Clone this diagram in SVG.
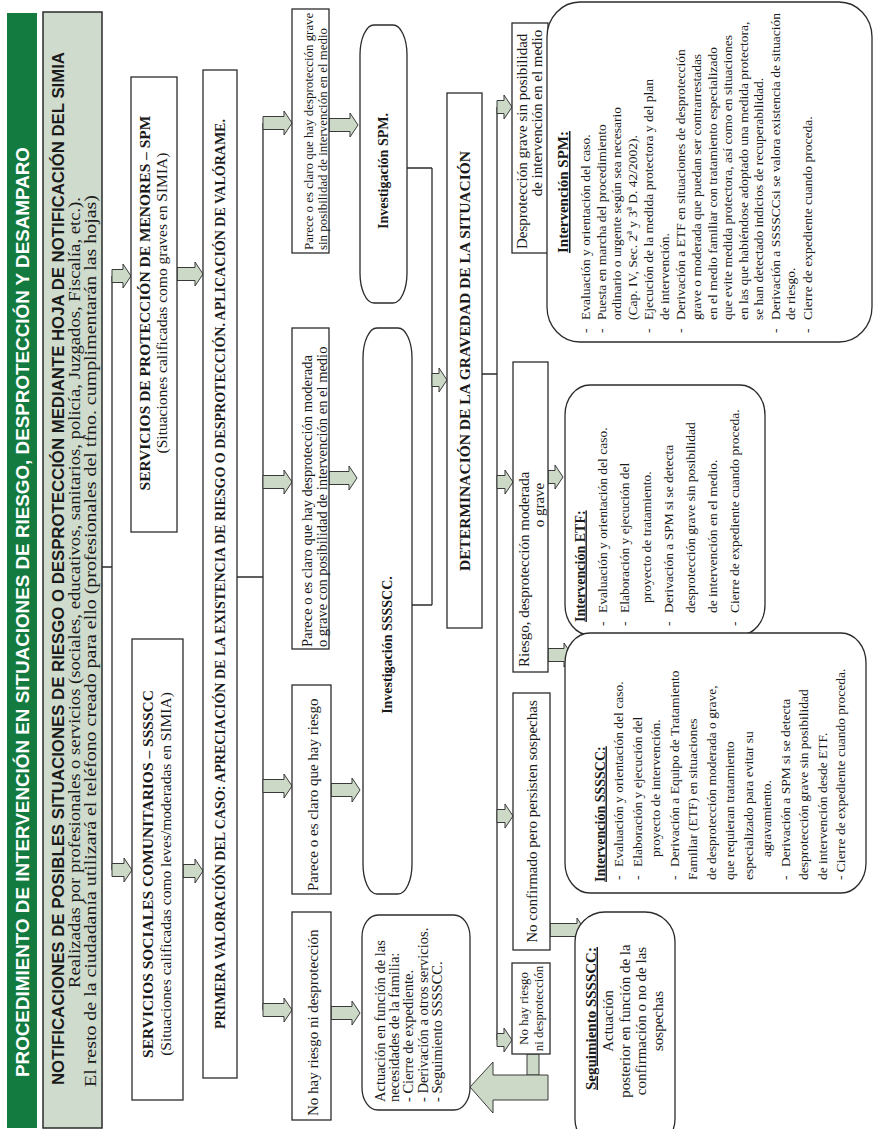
<svg xmlns="http://www.w3.org/2000/svg" width="873" height="1129" viewBox="0 0 873 1129">
<style>
.s{font-family:"Liberation Serif","Times New Roman",serif;font-size:13.5px;fill:#1a1a1a}
.m{font-size:15px}
.b{font-weight:bold;font-size:14px}
.c{text-anchor:middle}
.u{text-decoration:underline}
.h{font-family:"Liberation Sans",Arial,sans-serif;font-weight:bold}
.box{fill:#fff;stroke:#2b2b2b;stroke-width:1.3}
.arr{fill:#cbd9c6;stroke:#3a3a3a;stroke-width:1}
.ln{fill:none;stroke:#2b2b2b;stroke-width:1.3}
</style>
<rect width="873" height="1129" fill="#fff"/>
<g transform="translate(0,1129) rotate(-90)">
<g id="title">
<rect x="1" y="7" width="1115" height="30" fill="#137b40"/>
<text class="h" x="52" y="28.5" style="font-size:18px" fill="#fff" textLength="930" lengthAdjust="spacingAndGlyphs">PROCEDIMIENTO DE INTERVENCIÓN EN SITUACIONES DE RIESGO, DESPROTECCIÓN Y DESAMPARO</text>
</g>
<g id="notificaciones">
<rect x="1" y="43" width="1116" height="59" fill="#cfdbcc" stroke="#2b2b2b" stroke-width="1.5"/>
<text class="h" x="44" y="63.5" style="font-size:17px" fill="#1a1a1a" textLength="1033" lengthAdjust="spacingAndGlyphs">NOTIFICACIONES DE POSIBLES SITUACIONES DE RIESGO O DESPROTECCIÓN MEDIANTE HOJA DE NOTIFICACIÓN DEL SIMIA</text>
<text class="s" x="141" y="80" style="font-size:16px" textLength="791" lengthAdjust="spacingAndGlyphs">Realizadas por profesionales o servicios (sociales, educativos, sanitarios, policía, Juzgados, Fiscalía, etc.).</text>
<text class="s" x="42" y="95.5" style="font-size:16px" textLength="892" lengthAdjust="spacingAndGlyphs">El resto de la ciudadanía utilizará el teléfono creado para ello (profesionales del tfno. cumplimentarán las hojas)</text>
</g>
<g id="connectors">
<path class="ln" d="M562,102V112M259,112H853"/>
<path class="ln" d="M552,237V263M119,263H1006"/>
<path class="ln" d="M961,407V432M524,412V432M524,432H961"/>
<path class="ln" d="M755,482V497M89,497H1022"/>
<path class="arr" d="M846.5,112H859.5V123H865L853,131L841,123H846.5Z"/>
<path class="arr" d="M252.5,112H265.5V124H271L259,132L247,124H252.5Z"/>
<path class="arr" d="M848.5,177H861.5V195H867L855,203L843,195H848.5Z"/>
<path class="arr" d="M251.5,183H264.5V195H270L258,203L246,195H251.5Z"/>
<path class="arr" d="M999.5,263H1012.5V284H1018L1006,292L994,284H999.5Z"/>
<path class="arr" d="M640.5,263H653.5V284H659L647,292L635,284H640.5Z"/>
<path class="arr" d="M336.5,263H349.5V284H355L343,292L331,284H336.5Z"/>
<path class="arr" d="M112.5,263H125.5V284H131L119,292L107,284H112.5Z"/>
<path class="arr" d="M997.5,329H1010.5V350H1016L1004,358L992,350H997.5Z"/>
<path class="arr" d="M644.5,329H657.5V349H663L651,357L639,349H644.5Z"/>
<path class="arr" d="M332.5,331H345.5V352H351L339,360L327,352H332.5Z"/>
<path class="arr" d="M109.5,331H122.5V352H128L116,360L104,352H109.5Z"/>
<path class="arr" d="M742.5,432H755.5V439H761L749,447L737,439H742.5Z"/>
<path class="arr" d="M1015.5,497H1028.5V504H1034L1022,512L1010,504H1015.5Z"/>
<path class="arr" d="M640.5,497H653.5V505H659L647,513L635,505H640.5Z"/>
<path class="arr" d="M306.5,497H319.5V505H325L313,513L301,505H306.5Z"/>
<path class="arr" d="M82.5,497H95.5V504H101L89,512L77,504H82.5Z"/>
<path class="arr" d="M1014.5,548H1027.5V554H1033L1021,562L1009,554H1014.5Z"/>
<path class="arr" d="M645.5,548H658.5V555H664L652,563L640,555H645.5Z"/>
<path class="arr" d="M467.5,548H480.5V564H486L474,572L462,564H467.5Z"/>
<path class="arr" d="M192.5,550H205.5V577H211L199,585L187,577H192.5Z"/>
<rect class="arr" x="54" y="527" width="21" height="12"/>
<path class="arr" d="M42,470L67,493H54V548H29V493H16Z"/>
</g>
<g id="spm">
<rect class="box" x="597" y="131" width="455" height="46"/>
<text class="s b c" x="826" y="149.5" style="font-size:15.5px">SERVICIOS DE PROTECCIÓN DE MENORES – SPM</text>
<text class="s c" x="826" y="167" style="font-size:15.5px">(Situaciones calificadas como graves en SIMIA)</text>
</g>
<g id="ssscc">
<rect class="box" x="29" y="132" width="461" height="51"/>
<text class="s b c" x="255" y="152.5" style="font-size:15.5px">SERVICIOS SOCIALES COMUNITARIOS – SSSSCC</text>
<text class="s c" x="255" y="171" style="font-size:15.5px">(Situaciones calificadas como leves/moderadas en SIMIA)</text>
</g>
<g id="primera">
<rect class="box" x="51" y="203" width="1008" height="34"/>
<text class="s b c" x="555" y="225">PRIMERA VALORACIÓN DEL CASO: APRECIACIÓN DE LA EXISTENCIA DE RIESGO O DESPROTECCIÓN. APLICACIÓN DE VALÓRAME.</text>
</g>
<g id="d-grave">
<rect class="box" x="876" y="292" width="244" height="37"/>
<text class="s" x="879" y="312.5" style="font-size:12.9px">Parece o es claro que hay desprotección grave</text>
<text class="s" x="879" y="326.5" style="font-size:12.9px">sin posibilidad de intervención en el medio</text>
</g>
<g id="c-moderada">
<rect class="box" x="480" y="292" width="321" height="37"/>
<text class="s" x="482" y="312" style="font-size:14.5px">Parece o es claro que hay desprotección moderada</text>
<text class="s" x="482" y="326.5" style="font-size:14.5px">o grave con posibilidad de intervención en el medio</text>
</g>
<g id="b-riesgo">
<rect class="box" x="235" y="292" width="209" height="39"/>
<text class="s m" x="238" y="317.5">Parece o es claro que hay riesgo</text>
</g>
<g id="a-noriesgo">
<rect class="box" x="9" y="292" width="208" height="39"/>
<text class="s m" x="13" y="317.5">No hay riesgo ni desprotección</text>
</g>
<g id="inv-spm">
<rect class="box" x="826" y="360" width="278" height="47" rx="30" ry="14"/>
<text class="s b c" x="958" y="388">Investigación SPM.</text>
</g>
<g id="inv-ssscc">
<rect class="box" x="235" y="363" width="566" height="49" rx="30" ry="14"/>
<text class="s b c" x="484" y="392">Investigación SSSSCC.</text>
</g>
<g id="actuacion">
<rect class="box" x="19" y="362" width="195" height="108" rx="22" ry="16"/>
<g class="s" style="font-size:14.5px">
<text x="27" y="385">Actuación en función de las</text>
<text x="27" y="399">necesidades de la familia:</text>
<text x="27" y="413">- Cierre de expediente.</text>
<text x="27" y="427.5">- Derivación a otros servicios.</text>
<text x="27" y="442">- Seguimiento SSSSCC.</text>
</g>
</g>
<g id="determinacion">
<rect class="box" x="501" y="447" width="535" height="35"/>
<text class="s b c" x="768" y="470" style="font-size:15.5px">DETERMINACIÓN DE LA GRAVEDAD DE LA SITUACIÓN</text>
</g>
<g id="desproteccion-grave">
<rect class="box" x="876" y="512" width="230" height="36"/>
<text class="s m" x="880" y="527">Desprotección grave sin posibilidad</text>
<text class="s m c" x="1016" y="542">de intervención en el medio</text>
</g>
<g id="riesgo-moderada">
<rect class="box" x="457" y="513" width="310" height="35"/>
<text class="s m" x="462" y="528.5">Riesgo, desprotección moderada</text>
<text class="s m c" x="624" y="543.5">o grave</text>
</g>
<g id="no-confirmado">
<rect class="box" x="179" y="513" width="257" height="37"/>
<text class="s m c" x="307.5" y="536.5">No confirmado pero persisten sospechas</text>
</g>
<g id="no-riesgo-2">
<rect class="box" x="75" y="512" width="91" height="38"/>
<text class="s c" x="120.5" y="528" style="font-size:13px">No hay riesgo</text>
<text class="s c" x="120.5" y="543" style="font-size:13px">ni desprotección</text>
</g>
<g id="int-spm">
<rect class="box" x="787" y="547" width="340" height="325" rx="35" ry="33"/>
<text class="s b c u" x="937" y="568" style="font-size:15px">Intervención SPM:</text>
<g class="s">
<text x="796" y="589.5">-</text><text x="809" y="589.5">Evaluación y orientación del caso.</text>
<text x="796" y="605.5">-</text><text x="809" y="605.5">Puesta en marcha del procedimiento</text>
<text x="809" y="620.5">ordinario o urgente según sea necesario</text>
<text x="809" y="636.5">(Cap. IV, Sec. 2ª y 3ª D. 42/2002).</text>
<text x="796" y="652.5">-</text><text x="809" y="652.5">Ejecución de la medida protectora y del plan</text>
<text x="809" y="668.5">de intervención.</text>
<text x="796" y="684.5">-</text><text x="809" y="684.5">Derivación a ETF en situaciones de desprotección</text>
<text x="809" y="700.5">grave o moderada que puedan ser contrarrestadas</text>
<text x="809" y="716.5">en el medio familiar con tratamiento especializado</text>
<text x="809" y="731.5">que evite medida protectora, así como en situaciones</text>
<text x="809" y="747.5">en las que habiéndose adoptado una medida protectora,</text>
<text x="809" y="762.5">se han detectado indicios de recuperabilidad.</text>
<text x="796" y="779.5">-</text><text x="809" y="779.5">Derivación a SSSSCCsi se valora existencia de situación</text>
<text x="809" y="794.5">de riesgo.</text>
<text x="796" y="811.5">-</text><text x="809" y="811.5">Cierre de expediente cuando proceda.</text>
</g>
</g>
<g id="int-etf">
<rect class="box" x="494" y="565" width="250" height="200" rx="30" ry="25"/>
<text class="s b u" x="507" y="584.5">Intervención ETF:</text>
<g class="s">
<text x="503" y="606.5">-</text><text x="516" y="606.5">Evaluación y orientación del caso.</text>
<text x="503" y="628.5">-</text><text x="516" y="628.5">Elaboración y ejecución del</text>
<text x="526" y="650.5">proyecto de tratamiento.</text>
<text x="503" y="672.5">-</text><text x="516" y="672.5">Derivación a SPM si se detecta</text>
<text x="516" y="694.5">desprotección grave sin posibilidad</text>
<text x="516" y="716.5">de intervención en el medio.</text>
<text x="503" y="738.5">-</text><text x="516" y="738.5">Cierre de expediente cuando proceda.</text>
</g>
</g>
<g id="int-ssscc">
<rect class="box" x="236" y="565" width="260" height="301" rx="30" ry="25"/>
<text class="s b u" x="247" y="604.5">Intervención SSSSCC:</text>
<g class="s">
<text x="249" y="623">-</text><text x="262" y="623">Evaluación y orientación del caso.</text>
<text x="249" y="641.5">-</text><text x="262" y="641.5">Elaboración y ejecución del</text>
<text x="272" y="660">proyecto de intervención.</text>
<text x="249" y="678.5">-</text><text x="262" y="678.5">Derivación a Equipo de Tratamiento</text>
<text x="249" y="697">Familiar (ETF) en situaciones</text>
<text x="249" y="715.5">de desprotección moderada o grave,</text>
<text x="249" y="734">que requieran tratamiento</text>
<text x="249" y="752.5">especializado para evitar su</text>
<text x="272" y="771">agravamiento.</text>
<text x="249" y="789.5">-</text><text x="262" y="789.5">Derivación a SPM si se detecta</text>
<text x="249" y="808">desprotección grave sin posibilidad</text>
<text x="249" y="826.5">de intervención desde ETF.</text>
<text x="249" y="845">- Cierre de expediente cuando proceda.</text>
</g>
</g>
<g id="seguimiento">
<rect class="box" x="-20" y="575" width="237" height="100" rx="30" ry="30"/>
<text class="s b u" x="39" y="595.5" style="font-size:15px">Seguimiento SSSSCC:</text>
<g class="s c m">
<text x="108" y="613">Actuación</text>
<text x="108" y="629.5">posterior en función de la</text>
<text x="108" y="646">confirmación o no de las</text>
<text x="108" y="662.5">sospechas</text>
</g>
</g>
</g>
</svg>
